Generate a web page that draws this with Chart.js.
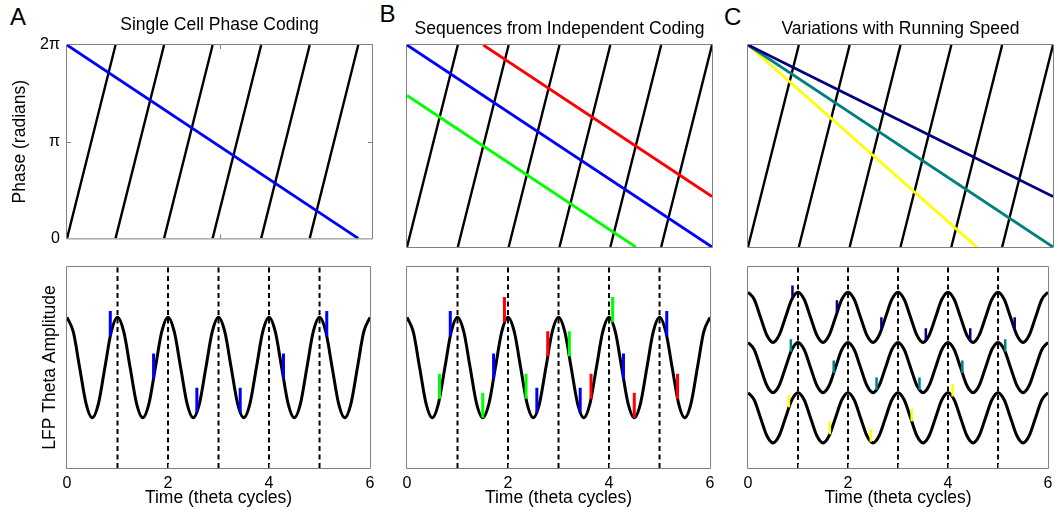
<!DOCTYPE html>
<html><head><meta charset="utf-8">
<script src="https://cdn.jsdelivr.net/npm/chart.js@4.4.1/dist/chart.umd.min.js"></script>
<style>
html,body{margin:0;padding:0;background:#fff;}
#fig{position:relative;width:1058px;height:513px;overflow:hidden;background:#fff;}
canvas{position:absolute;}
.lt{position:absolute;font-family:'Liberation Sans',Arial,Helvetica,sans-serif;font-size:24px;line-height:24px;color:#000;}
</style></head><body>
<div id="fig">
<div class="lt" style="left:10px;top:5px">A</div>
<div class="lt" style="left:379.5px;top:2px">B</div>
<div class="lt" style="left:724px;top:5px">C</div>
<canvas id="aTop" width="380" height="255" style="left:0px;top:0px"></canvas>
<canvas id="bTop" width="340" height="255" style="left:380px;top:0px"></canvas>
<canvas id="cTop" width="338" height="255" style="left:720px;top:0px"></canvas>
<canvas id="aBot" width="380" height="258" style="left:0px;top:255px"></canvas>
<canvas id="bBot" width="340" height="258" style="left:380px;top:255px"></canvas>
<canvas id="cBot" width="338" height="258" style="left:720px;top:255px"></canvas>
</div>
<script>
// ---------------- data ----------------
const timeTickValues = [0, 2, 4, 6];
const timeMinorTicks = [1, 2, 3, 4, 5];
const phaseTickValues = [0, 3.1416, 6.2832];
const phaseTickLabels = ['0', 'π', '2π'];
const phaseMax = 6.2832;
const lfpMin = -2, lfpMax = 2;

// theta phase sawtooth (black lines in top panels)
const thetaStartT = [0, 1, 2, 3, 4, 5];
const thetaEndT   = [1, 2, 3, 4, 5, 6];
const thetaStartPhase = [0, 0, 0, 0, 0, 0];
const thetaEndPhase   = [6.2832, 6.2832, 6.2832, 6.2832, 6.2832, 6.2832];

// theta cycle boundaries (dashed lines)
const cycleBoundaries = [1, 2, 3, 4, 5];

// LFP theta wave samples
const waveT = [0,0.125,0.25,0.375,0.5,0.625,0.75,0.875,
  1,1.125,1.25,1.375,1.5,1.625,1.75,1.875,
  2,2.125,2.25,2.375,2.5,2.625,2.75,2.875,
  3,3.125,3.25,3.375,3.5,3.625,3.75,3.875,
  4,4.125,4.25,4.375,4.5,4.625,4.75,4.875,
  5,5.125,5.25,5.375,5.5,5.625,5.75,5.875,6];
const waveLFP = [1,0.707,0,-0.707,-1,-0.707,0,0.707,
  1,0.707,0,-0.707,-1,-0.707,0,0.707,
  1,0.707,0,-0.707,-1,-0.707,0,0.707,
  1,0.707,0,-0.707,-1,-0.707,0,0.707,
  1,0.707,0,-0.707,-1,-0.707,0,0.707,
  1,0.707,0,-0.707,-1,-0.707,0,0.707,1];
const waveUpper = [1.5,1.354,1,0.646,0.5,0.646,1,1.354,
  1.5,1.354,1,0.646,0.5,0.646,1,1.354,
  1.5,1.354,1,0.646,0.5,0.646,1,1.354,
  1.5,1.354,1,0.646,0.5,0.646,1,1.354,
  1.5,1.354,1,0.646,0.5,0.646,1,1.354,
  1.5,1.354,1,0.646,0.5,0.646,1,1.354,1.5];
const waveMiddle = [0.5,0.354,0,-0.354,-0.5,-0.354,0,0.354,
  0.5,0.354,0,-0.354,-0.5,-0.354,0,0.354,
  0.5,0.354,0,-0.354,-0.5,-0.354,0,0.354,
  0.5,0.354,0,-0.354,-0.5,-0.354,0,0.354,
  0.5,0.354,0,-0.354,-0.5,-0.354,0,0.354,
  0.5,0.354,0,-0.354,-0.5,-0.354,0,0.354,0.5];
const waveLower = [-0.5,-0.646,-1,-1.354,-1.5,-1.354,-1,-0.646,
  -0.5,-0.646,-1,-1.354,-1.5,-1.354,-1,-0.646,
  -0.5,-0.646,-1,-1.354,-1.5,-1.354,-1,-0.646,
  -0.5,-0.646,-1,-1.354,-1.5,-1.354,-1,-0.646,
  -0.5,-0.646,-1,-1.354,-1.5,-1.354,-1,-0.646,
  -0.5,-0.646,-1,-1.354,-1.5,-1.354,-1,-0.646,-0.5];

// Panel A: single cell
const aCellT = [0, 6];
const aCellPhase = [6.2832, 0];
const aSpikeT    = [0.857, 1.714, 2.571, 3.429, 4.286, 5.143];
const aSpikeLow  = [0.623, -0.223, -0.901, -0.901, -0.223, 0.623];
const aSpikeHigh = [1.123, 0.277, -0.401, -0.401, 0.277, 1.123];

// Panel B: three cells
const bBlueT = [0, 6],   bBluePhase = [6.2832, 0];
const bRedT = [1.5, 6],  bRedPhase = [6.2832, 1.5708];
const bGreenT = [0, 4.5], bGreenPhase = [4.7124, 0];
const bGreenSpikeT    = [0.643, 1.5, 2.357, 3.214, 4.071];
const bGreenSpikeLow  = [-0.624, -1, -0.624, 0.223, 0.901];
const bGreenSpikeHigh = [-0.124, -0.5, -0.124, 0.723, 1.401];
const bBlueSpikeT    = [0.857, 1.714, 2.571, 3.429, 4.286, 5.143];
const bBlueSpikeLow  = [0.623, -0.223, -0.901, -0.901, -0.223, 0.623];
const bBlueSpikeHigh = [1.123, 0.277, -0.401, -0.401, 0.277, 1.123];
const bRedSpikeT    = [1.929, 2.786, 3.643, 4.5, 5.357];
const bRedSpikeLow  = [0.901, 0.223, -0.624, -1, -0.624];
const bRedSpikeHigh = [1.401, 0.723, -0.124, -0.5, -0.124];

// Panel C: running speed
const cNavyT = [0, 6],   cNavyPhase = [6.2832, 1.5708];
const cTealT = [0, 6],   cTealPhase = [6.2832, 0];
const cYellowT = [0, 4.5], cYellowPhase = [6.2832, 0];
const cNavySpikeT    = [0.889, 1.778, 2.667, 3.556, 4.444, 5.333];
const cNavySpikeLow  = [1.383, 1.087, 0.75, 0.53, 0.53, 0.75];
const cNavySpikeHigh = [1.633, 1.337, 1.0, 0.78, 0.78, 1.0];
const cTealSpikeT    = [0.857, 1.714, 2.571, 3.429, 4.286, 5.143];
const cTealSpikeLow  = [0.312, -0.111, -0.45, -0.45, -0.111, 0.312];
const cTealSpikeHigh = [0.562, 0.139, -0.2, -0.2, 0.139, 0.562];
const cYellowSpikeT    = [0.818, 1.636, 2.455, 3.273, 4.091];
const cYellowSpikeLow  = [-0.792, -1.327, -1.479, -1.071, -0.579];
const cYellowSpikeHigh = [-0.542, -1.077, -1.229, -0.821, -0.329];

// ---------------- helpers ----------------
const FONT = "'Liberation Sans', Arial, Helvetica, sans-serif";
Chart.defaults.font.family = FONT;
Chart.defaults.color = '#000';

const COL = {blue:'#0000ff', red:'#ff0000', green:'#00ff00', navy:'#000080', teal:'#008080', yellow:'#ffff00', black:'#000000'};

function pairs(xs, ys) { return xs.map((x, i) => ({x: x, y: ys[i]})); }
function segments(x0, y0, x1, y1) {
  const out = [];
  x0.forEach((x, i) => { out.push({x: x, y: y0[i]}, {x: x1[i], y: y1[i]}, {x: x1[i], y: null}); });
  return out;
}
function lineDS(data, color, width, extra) {
  return Object.assign({data: data, borderColor: color, backgroundColor: color, borderWidth: width,
    pointRadius: 0, fill: false, tension: 0, spanGaps: false, borderCapStyle: 'butt'}, extra || {});
}

const framePlugin = {
  id: 'frame',
  afterDatasetsDraw(chart, args, opts) {
    const {ctx, chartArea: a} = chart;
    const xs = chart.scales.x, ys = chart.scales.y;
    ctx.save();
    ctx.strokeStyle = '#808080';
    ctx.lineWidth = 1;
    ctx.beginPath();
    ctx.rect(a.left - 0.5, a.top - 0.5, a.right - a.left + 1, a.bottom - a.top + 1);
    ctx.stroke();
    const L = 4;
    ctx.beginPath();
    (opts.xTicks || []).forEach(v => {
      const p = Math.round(xs.getPixelForValue(v)) + 0.5;
      ctx.moveTo(p, a.bottom); ctx.lineTo(p, a.bottom - L);
      if (opts.both) { ctx.moveTo(p, a.top); ctx.lineTo(p, a.top + L); }
    });
    (opts.yTicks || []).forEach(v => {
      const p = Math.round(ys.getPixelForValue(v)) + 0.5;
      ctx.moveTo(a.left, p); ctx.lineTo(a.left + L, p);
      ctx.moveTo(a.right, p); ctx.lineTo(a.right - L, p);
    });
    ctx.stroke();
    ctx.restore();
  }
};

function makeChart(id, cfg) {
  return new Chart(document.getElementById(id), {
    type: 'line',
    data: {datasets: cfg.datasets},
    options: {
      responsive: false, maintainAspectRatio: false, animation: false, devicePixelRatio: 1,
      events: [],
      layout: {padding: cfg.padding},
      plugins: {
        legend: {display: false}, tooltip: {enabled: false},
        title: cfg.title || {display: false},
        frame: cfg.frame || {}
      },
      scales: {x: cfg.x, y: cfg.y}
    },
    plugins: [framePlugin]
  });
}

function panelTitle(text, top, bottom) {
  return {display: true, text: text, fullSize: false, color: '#000',
    font: {family: FONT, size: 17.5, weight: 'normal', lineHeight: 1.2},
    padding: {top: top, bottom: bottom}};
}

const hiddenX = (max) => ({type: 'linear', min: 0, max: max, display: false, offset: false});
const hiddenY = (min, max) => ({type: 'linear', min: min, max: max, display: false});

const phaseAxisA = {
  type: 'linear', min: 0, max: phaseMax, position: 'left',
  grid: {display: false, drawTicks: false}, border: {display: false},
  afterBuildTicks: s => { s.ticks = phaseTickValues.map(v => ({value: v})); },
  afterFit: s => { s.width = 67; },
  ticks: {padding: 7, font: {size: 16, lineHeight: 1.2}, color: '#000',
    callback: (v, i) => phaseTickLabels[i]},
  title: {display: true, text: 'Phase (radians)', color: '#000',
    font: {size: 17.5, lineHeight: 1.2}, padding: {top: 10, bottom: 0}}
};

const timeAxis = {
  type: 'linear', min: 0, max: 6, position: 'bottom', offset: false,
  grid: {display: false, drawTicks: false}, border: {display: false},
  afterBuildTicks: s => { s.ticks = timeTickValues.map(v => ({value: v})); },
  afterFit: s => { s.height = 45; },
  ticks: {padding: 5.5, font: {size: 16, lineHeight: 1.2}, color: '#000', autoSkip: false, maxRotation: 0},
  title: {display: true, text: 'Time (theta cycles)', color: '#000',
    font: {size: 17.5, lineHeight: 1.2}, padding: {top: 0, bottom: 4.5}}
};

const lfpAxisA = {
  type: 'linear', min: lfpMin, max: lfpMax, position: 'left',
  grid: {display: false, drawTicks: false}, border: {display: false},
  ticks: {display: false},
  afterFit: s => { s.width = 67; },
  title: {display: true, text: 'LFP Theta Amplitude', color: '#000',
    font: {size: 17.5, lineHeight: 1.2}, padding: {top: 39.5, bottom: 0}}
};

const blackSaw = () => lineDS(segments(thetaStartT, thetaStartPhase, thetaEndT, thetaEndPhase), COL.black, 2.4);
const dashDS = () => lineDS(segments(cycleBoundaries, cycleBoundaries.map(() => lfpMin), cycleBoundaries, cycleBoundaries.map(() => lfpMax)),
  COL.black, 2, {borderDash: [5, 3.5]});
const waveDS = (ys) => lineDS(pairs(waveT, ys), COL.black, 3, {cubicInterpolationMode: 'monotone'});
const spikeDS = (t, lo, hi, color, w) => lineDS(segments(t, lo, t, hi), color, w);

// ---------------- Panel A ----------------
makeChart('aTop', {
  padding: {left: 0, right: 8, top: 0, bottom: 8},
  title: panelTitle('Single Cell Phase Coding', 14.8, 9.2),
  x: hiddenX(phaseMax), y: phaseAxisA,
  frame: {xTicks: [3.1416], yTicks: [3.1416], both: true},
  datasets: [lineDS(pairs(aCellT, aCellPhase), COL.blue, 2.8), blackSaw()]
});
makeChart('aBot', {
  padding: {left: 0, right: 8, top: 12, bottom: 0},
  x: timeAxis, y: lfpAxisA,
  frame: {xTicks: timeMinorTicks},
  datasets: [spikeDS(aSpikeT, aSpikeLow, aSpikeHigh, COL.blue, 3), waveDS(waveLFP), dashDS()]
});

// ---------------- Panel B ----------------
makeChart('bTop', {
  padding: {left: 27, right: 8, top: 0, bottom: 8},
  title: panelTitle('Sequences from Independent Coding', 18.7, 5.3),
  x: hiddenX(6), y: hiddenY(0, phaseMax),
  datasets: [lineDS(pairs(bRedT, bRedPhase), COL.red, 2.8), lineDS(pairs(bBlueT, bBluePhase), COL.blue, 2.8),
    lineDS(pairs(bGreenT, bGreenPhase), COL.green, 2.8), blackSaw()]
});
makeChart('bBot', {
  padding: {left: 27, right: 8, top: 12, bottom: 0},
  x: timeAxis, y: hiddenY(lfpMin, lfpMax),
  frame: {xTicks: timeMinorTicks},
  datasets: [spikeDS(bGreenSpikeT, bGreenSpikeLow, bGreenSpikeHigh, COL.green, 3),
    spikeDS(bBlueSpikeT, bBlueSpikeLow, bBlueSpikeHigh, COL.blue, 3),
    spikeDS(bRedSpikeT, bRedSpikeLow, bRedSpikeHigh, COL.red, 3),
    waveDS(waveLFP), dashDS()]
});

// ---------------- Panel C ----------------
makeChart('cTop', {
  padding: {left: 28, right: 5, top: 0, bottom: 8},
  title: panelTitle('Variations with Running Speed', 18.7, 5.3),
  x: hiddenX(6), y: hiddenY(0, phaseMax),
  datasets: [lineDS(pairs(cNavyT, cNavyPhase), COL.navy, 2.8), lineDS(pairs(cTealT, cTealPhase), COL.teal, 2.8),
    lineDS(pairs(cYellowT, cYellowPhase), COL.yellow, 2.8), blackSaw()]
});
makeChart('cBot', {
  padding: {left: 28, right: 5, top: 12, bottom: 0},
  x: timeAxis, y: hiddenY(lfpMin, lfpMax),
  frame: {xTicks: timeMinorTicks},
  datasets: [spikeDS(cNavySpikeT, cNavySpikeLow, cNavySpikeHigh, COL.navy, 2.5),
    spikeDS(cTealSpikeT, cTealSpikeLow, cTealSpikeHigh, COL.teal, 2.5),
    spikeDS(cYellowSpikeT, cYellowSpikeLow, cYellowSpikeHigh, COL.yellow, 2.5),
    waveDS(waveUpper), waveDS(waveMiddle), waveDS(waveLower), dashDS()]
});
</script>
</body></html>
